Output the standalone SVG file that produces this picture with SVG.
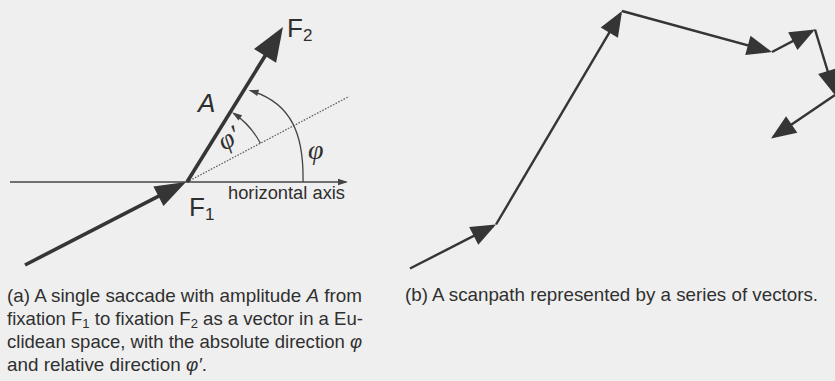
<svg xmlns="http://www.w3.org/2000/svg" width="835" height="381" viewBox="0 0 835 381">
  <style>
    .bg { fill: #efefef; }
    .vec { stroke: #353535; stroke-width: 3.6; fill: none; }
    .vecR { stroke: #353535; stroke-width: 2.4; fill: none; }
    .thin { stroke: #444; stroke-width: 1.3; fill: none; }
    .dot { stroke: #666; stroke-width: 1.3; stroke-dasharray: 1.6 1.4; fill: none; }
    .head { fill: #353535; }
    .lbl { font-family: "Liberation Sans", Arial, sans-serif; fill: #2e2e2e; }
    .greek { font-family: "Liberation Serif", "DejaVu Serif", serif; font-style: italic; fill: #2e2e2e; }
    .cap { font-family: "Liberation Sans", Arial, sans-serif; font-size: 18.5px; fill: #303030; }
    .sub { font-size: 13px; }
  </style>
  <defs>
    <marker id="headL" markerUnits="userSpaceOnUse" viewBox="-26 -14 38 28" markerWidth="38" markerHeight="28" refX="0" refY="0" orient="auto">
      <path class="head" d="M10,0 L-24,-13 L-24,13 Z"/>
    </marker>
    <marker id="headM" markerUnits="userSpaceOnUse" viewBox="-24 -12 36 24" markerWidth="36" markerHeight="24" refX="0" refY="0" orient="auto">
      <path class="head" d="M10,0 L-21,-11 L-21,11 Z"/>
    </marker>
    <marker id="headR" markerUnits="userSpaceOnUse" viewBox="-24 -11 30 22" markerWidth="30" markerHeight="22" refX="0" refY="0" orient="auto">
      <path class="head" d="M3,0 L-22,-10 L-22,10 Z"/>
    </marker>
    <marker id="headS" markerUnits="userSpaceOnUse" viewBox="-10 -4 14 8" markerWidth="14" markerHeight="8" refX="0" refY="0" orient="auto">
      <path fill="#444" d="M2,0 L-8,-3.2 L-8,3.2 Z"/>
    </marker>
  </defs>

  <rect class="bg" x="0" y="0" width="835" height="381"/>

  <!-- Panel (a) -->
  <g id="connectors-a">
    <line id="axis" class="thin" x1="10" y1="182" x2="346" y2="182" marker-end="url(#headS)"/>
    <line id="ref-direction" class="dot" x1="187" y1="182" x2="349" y2="96.5"/>
    <line id="incoming" class="vec" x1="25" y1="265" x2="177.1" y2="186.6" marker-end="url(#headM)"/>
    <line id="saccade-A" class="vec" x1="187" y1="182" x2="277.7" y2="35.5" marker-end="url(#headL)"/>
    <path id="arc-phi-prime" class="thin" d="M260.4,143.3 A83,83 0 0 0 233.7,113.4" marker-end="url(#headS)"/>
    <path id="arc-phi" class="thin" d="M303,182 C304,135 292,103 250.5,90.6" marker-end="url(#headS)"/>
  </g>

  <g id="node-F1">
    <text class="lbl" x="189" y="216" font-size="26">F<tspan font-size="17" dy="4">1</tspan></text>
  </g>
  <g id="node-F2">
    <text class="lbl" x="287" y="37" font-size="26">F<tspan font-size="17" dy="4">2</tspan></text>
  </g>
  <g id="labels-a">
    <text class="lbl" x="198" y="112" font-size="26" font-style="italic">A</text>
    <text class="greek" x="0" y="0" font-size="27" transform="translate(224,151) rotate(-30)">φ′</text>
    <text class="greek" x="308" y="159" font-size="28">φ</text>
    <text class="lbl" x="228" y="198.5" font-size="18" textLength="117" lengthAdjust="spacingAndGlyphs">horizontal axis</text>
  </g>

  <!-- Panel (b) -->
  <g id="connectors-b">
    <line class="vecR" x1="410" y1="268.5" x2="493.3" y2="225.9" marker-end="url(#headR)"/>
    <line class="vecR" x1="496" y1="224.5" x2="620.5" y2="13.6" marker-end="url(#headR)"/>
    <line class="vecR" x1="622" y1="11" x2="769.1" y2="51.2" marker-end="url(#headR)"/>
    <line class="vecR" x1="772" y1="52" x2="812.3" y2="30.9" marker-end="url(#headR)"/>
    <line class="vecR" x1="815" y1="29.5" x2="834.1" y2="92.1" marker-end="url(#headR)"/>
    <line class="vecR" x1="835" y1="95" x2="773.5" y2="136.8" marker-end="url(#headR)"/>
  </g>

  <!-- Captions -->
  <g id="caption-a">
    <text class="cap" x="7" y="302" textLength="355" lengthAdjust="spacingAndGlyphs">(a) A single saccade with amplitude <tspan font-style="italic">A</tspan> from</text>
    <text class="cap" x="7" y="325" textLength="356" lengthAdjust="spacingAndGlyphs">fixation F<tspan class="sub" dy="3">1</tspan><tspan dy="-3"> to fixation F</tspan><tspan class="sub" dy="3">2</tspan><tspan dy="-3"> as a vector in a Eu-</tspan></text>
    <text class="cap" x="7" y="348" textLength="355" lengthAdjust="spacingAndGlyphs">clidean space, with the absolute direction <tspan font-style="italic">φ</tspan></text>
    <text class="cap" x="7" y="371" textLength="200" lengthAdjust="spacingAndGlyphs">and relative direction <tspan font-style="italic">φ′</tspan>.</text>
  </g>
  <g id="caption-b">
    <text class="cap" x="405" y="301" textLength="413" lengthAdjust="spacingAndGlyphs">(b) A scanpath represented by a series of vectors.</text>
  </g>
</svg>
